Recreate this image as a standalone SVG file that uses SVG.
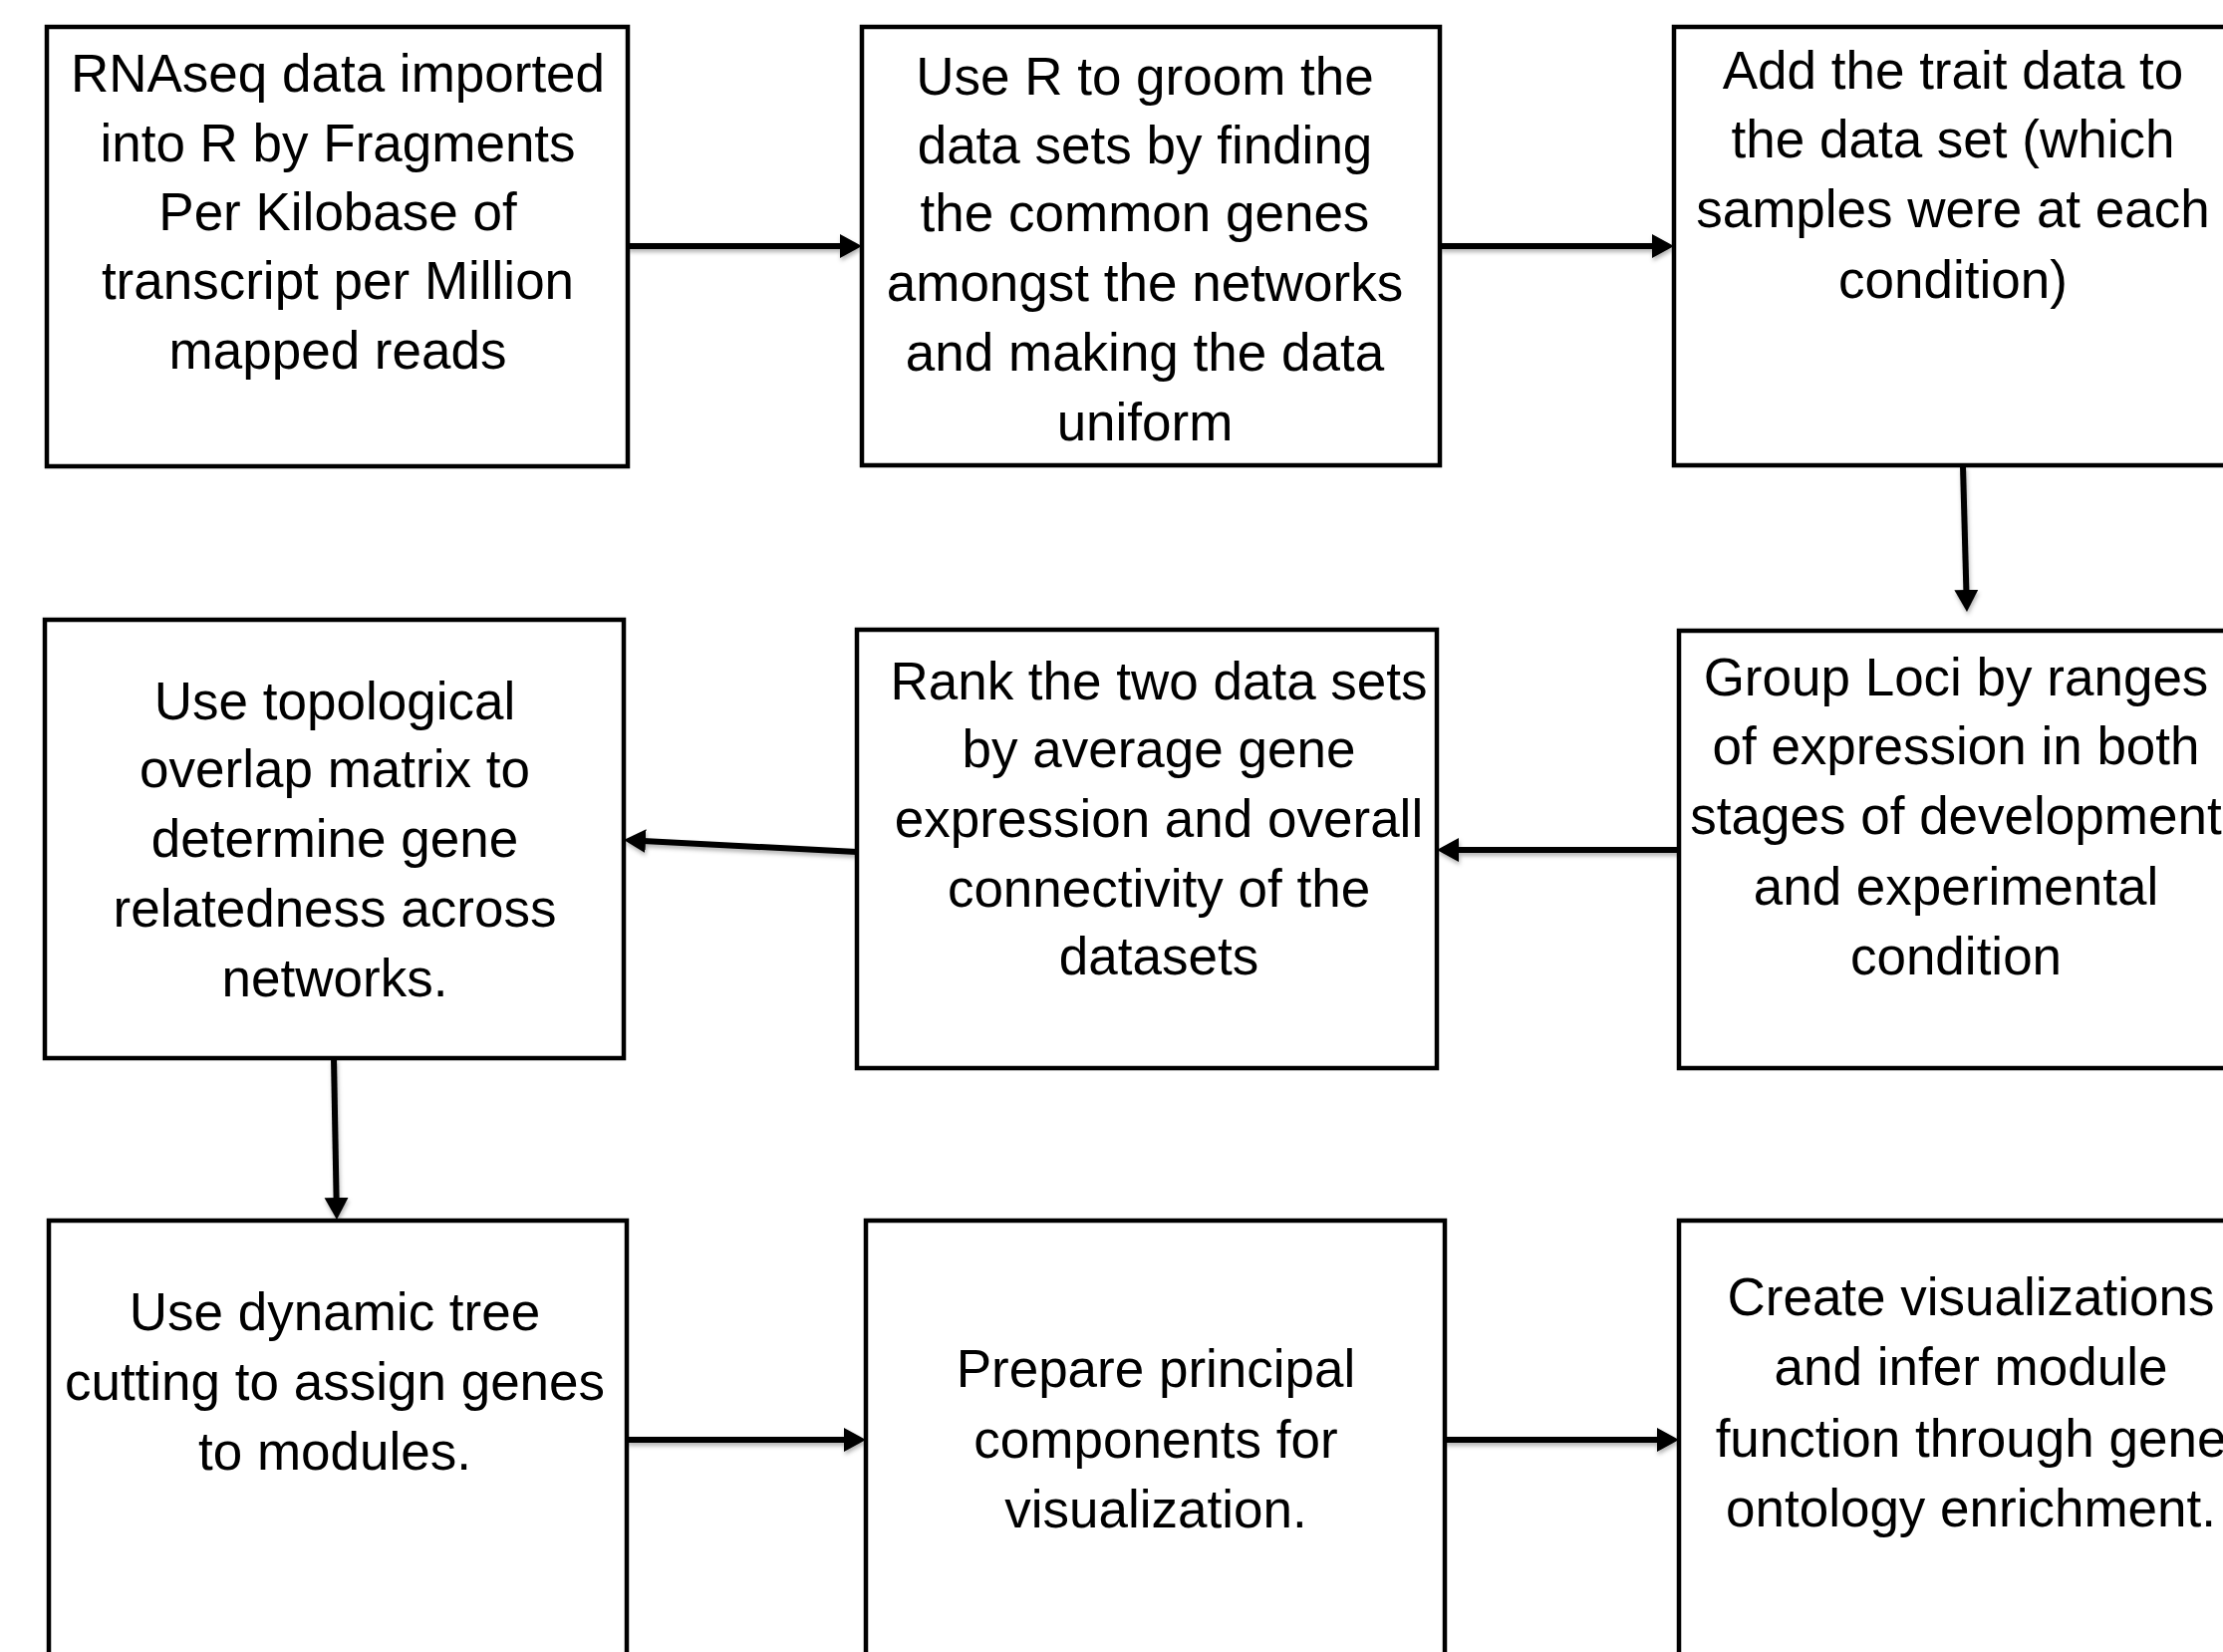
<svg xmlns="http://www.w3.org/2000/svg" width="2231" height="1658" viewBox="0 0 2231 1658">
<defs>
<style>
.box{fill:#fff;stroke:#000;stroke-width:4.5;stroke-linejoin:miter}
.lbl{font-family:"Liberation Sans",Arial,sans-serif;font-size:53px;fill:#000;text-anchor:middle}
.con{stroke:#000;stroke-width:6;fill:none;marker-end:url(#ah)}
</style>
<marker id="ah" markerUnits="userSpaceOnUse" markerWidth="24" markerHeight="26" refX="12" refY="12" orient="auto" viewBox="0 0 24 24">
<path d="M0,0 L22,12 L0,24 z" fill="#000"/>
</marker>
<filter id="sh" filterUnits="userSpaceOnUse" x="0" y="0" width="2231" height="1658">
<feDropShadow dx="1" dy="3" stdDeviation="2" flood-color="#000" flood-opacity="0.3"/>
</filter>
</defs>
<rect width="2231" height="1658" fill="#fff"/>
<g id="connectors" filter="url(#sh)">
<line class="con" x1="630" y1="247" x2="855" y2="247"/>
<line class="con" x1="1445" y1="247" x2="1670" y2="247"/>
<line class="con" x1="1970" y1="468" x2="1973.7" y2="604"/>
<line class="con" x1="1685" y1="853" x2="1452" y2="853"/>
<line class="con" x1="860" y1="855" x2="636" y2="843.5"/>
<line class="con" x1="335" y1="1062" x2="337.8" y2="1214"/>
<line class="con" x1="629" y1="1445" x2="859" y2="1445"/>
<line class="con" x1="1450" y1="1445" x2="1675" y2="1445"/>
</g>
<g id="n1">
<rect class="box" x="47" y="27" width="583" height="441"/>
<text class="lbl"><tspan x="339" y="92">RNAseq data imported</tspan><tspan x="339" y="162">into R by Fragments</tspan><tspan x="339" y="231">Per Kilobase of</tspan><tspan x="339" y="300">transcript per Million</tspan><tspan x="339" y="370">mapped reads</tspan></text>
</g>
<g id="n2">
<rect class="box" x="865" y="27" width="580" height="440"/>
<text class="lbl"><tspan x="1149" y="95">Use R to groom the</tspan><tspan x="1149" y="164">data sets by finding</tspan><tspan x="1149" y="232">the common genes</tspan><tspan x="1149" y="302">amongst the networks</tspan><tspan x="1149" y="372">and making the data</tspan><tspan x="1149" y="442">uniform</tspan></text>
</g>
<g id="n3">
<rect class="box" x="1680" y="27" width="560" height="440"/>
<text class="lbl"><tspan x="1960" y="89">Add the trait data to</tspan><tspan x="1960" y="158">the data set (which</tspan><tspan x="1960" y="228">samples were at each</tspan><tspan x="1960" y="299">condition)</tspan></text>
</g>
<g id="n4">
<rect class="box" x="1685" y="633" width="560" height="439"/>
<text class="lbl"><tspan x="1963" y="698">Group Loci by ranges</tspan><tspan x="1963" y="767">of expression in both</tspan><tspan x="1963" y="837">stages of development</tspan><tspan x="1963" y="908">and experimental</tspan><tspan x="1963" y="978">condition</tspan></text>
</g>
<g id="n5">
<rect class="box" x="860" y="632" width="582" height="440"/>
<text class="lbl"><tspan x="1163" y="702">Rank the two data sets</tspan><tspan x="1163" y="770">by average gene</tspan><tspan x="1163" y="840">expression and overall</tspan><tspan x="1163" y="910">connectivity of the</tspan><tspan x="1163" y="978">datasets</tspan></text>
</g>
<g id="n6">
<rect class="box" x="45" y="622" width="581" height="440"/>
<text class="lbl"><tspan x="336" y="722">Use topological</tspan><tspan x="336" y="790">overlap matrix to</tspan><tspan x="336" y="860">determine gene</tspan><tspan x="336" y="930">relatedness across</tspan><tspan x="336" y="1000">networks.</tspan></text>
</g>
<g id="n7">
<rect class="box" x="49" y="1225" width="580" height="460"/>
<text class="lbl"><tspan x="336" y="1335">Use dynamic tree</tspan><tspan x="336" y="1405">cutting to assign genes</tspan><tspan x="336" y="1475">to modules.</tspan></text>
</g>
<g id="n8">
<rect class="box" x="869" y="1225" width="581" height="460"/>
<text class="lbl"><tspan x="1160" y="1392">Prepare principal</tspan><tspan x="1160" y="1463">components for</tspan><tspan x="1160" y="1533">visualization.</tspan></text>
</g>
<g id="n9">
<rect class="box" x="1685" y="1225" width="586" height="460"/>
<text class="lbl"><tspan x="1978" y="1320">Create visualizations</tspan><tspan x="1978" y="1390">and infer module</tspan><tspan x="1978" y="1462">function through gene</tspan><tspan x="1978" y="1532">ontology enrichment.</tspan></text>
</g>
</svg>
